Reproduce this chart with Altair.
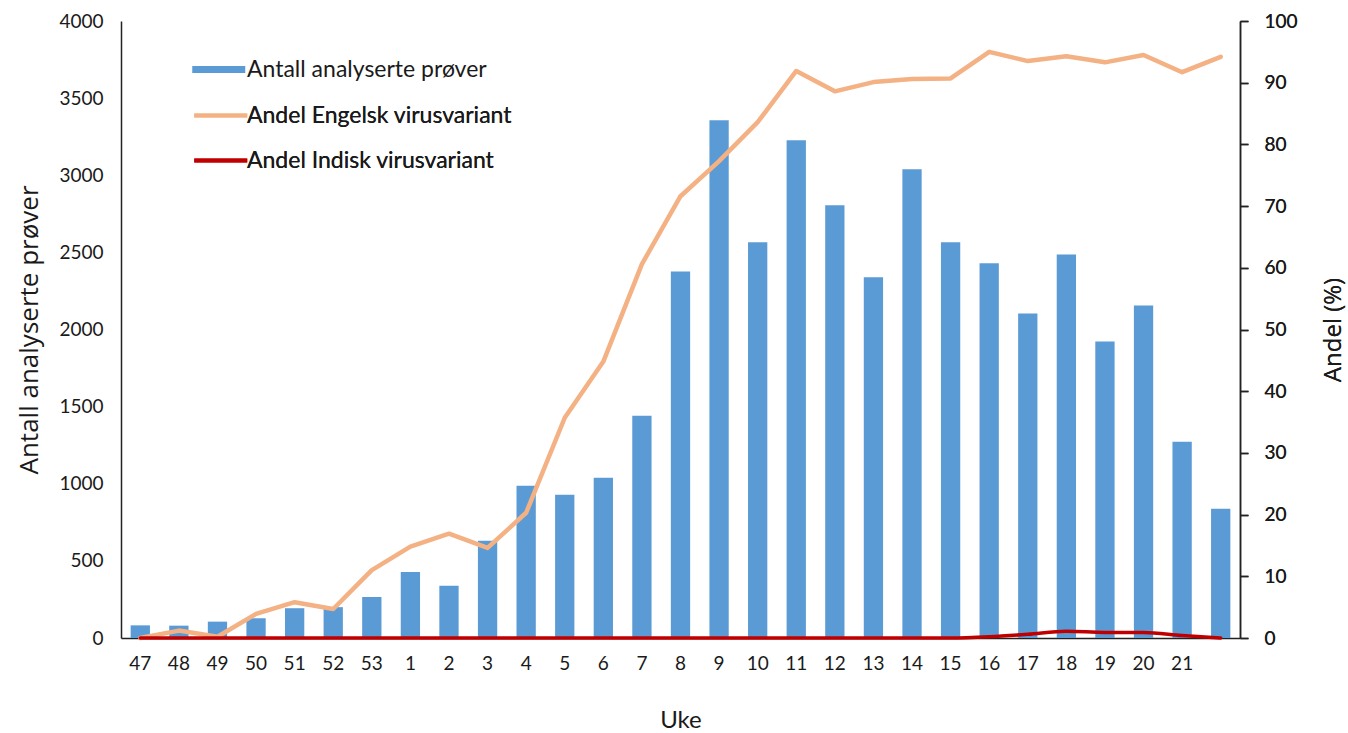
import altair as alt
import pandas as pd

# Weeks (2020 week 47 to 2021 week 22); week 22 is shown without a tick label
uke = ["47", "48", "49", "50", "51", "52", "53",
       "1", "2", "3", "4", "5", "6", "7", "8", "9", "10",
       "11", "12", "13", "14", "15", "16", "17", "18", "19", "20", "21", "22"]

# Number of analysed samples per week
antall = [82, 80, 106, 128, 193, 200, 266,
          428, 338, 630, 987, 928, 1039, 1441, 2376, 3357, 2565,
          3227, 2805, 2338, 3039, 2565, 2429, 2104, 2487, 1922, 2156, 1273, 838]

# Share (%) of the English (Alpha) variant
engelsk = [0.0, 1.2, 0.2, 3.9, 5.8, 4.7, 11.0,
           14.8, 16.9, 14.6, 20.3, 35.7, 44.8, 60.6, 71.6, 77.3, 83.6,
           91.9, 88.6, 90.1, 90.6, 90.7, 95.0, 93.5, 94.3, 93.3, 94.5, 91.7, 94.2]

# Share (%) of the Indian (Delta) variant
indisk = [0.0, 0.0, 0.0, 0.0, 0.0, 0.0, 0.0,
          0.0, 0.0, 0.0, 0.0, 0.0, 0.0, 0.0, 0.0, 0.0, 0.0,
          0.0, 0.0, 0.0, 0.0, 0.0, 0.2, 0.6, 1.1, 0.9, 0.9, 0.4, 0.0]

S_BAR = "Antall analyserte prøver"
S_ENG = "Andel Engelsk virusvariant"
S_IND = "Andel Indisk virusvariant"

bar_df = pd.DataFrame({"uke": uke, "antall": antall, "serie": S_BAR})
eng_df = pd.DataFrame({"uke": uke, "andel": engelsk, "serie": S_ENG})
ind_df = pd.DataFrame({"uke": uke, "andel": indisk, "serie": S_IND})

LABEL_FONT = "Lato"
TITLE_FONT = "Open Sans"
TXT = "#1a1a1a"
AX = "#222222"
LEG_SIZE = 23

x_enc = alt.X(
    "uke:N", sort=uke,
    scale=alt.Scale(paddingInner=0.5, paddingOuter=0.25),
    axis=alt.Axis(
        title="Uke", labelAngle=0, ticks=False, labelPadding=16,
        labelExpr="datum.value == '22' ? '' : datum.value",
        labelFont=LABEL_FONT, labelFontSize=19, labelColor=TXT,
        titleFont=LABEL_FONT, titleFontSize=24, titleFontWeight="normal",
        titleColor=TXT, titlePadding=35,
        domainColor=AX, domainWidth=1.5,
    ),
)

bars = alt.Chart(bar_df).mark_bar(color="#5B9BD5").encode(
    x=x_enc,
    y=alt.Y(
        "antall:Q",
        scale=alt.Scale(domain=[0, 4000], nice=False),
        axis=alt.Axis(
            title="Antall analyserte prøver", values=list(range(0, 4001, 500)),
            format="d", grid=False, ticks=False, labelPadding=18,
            labelFont=LABEL_FONT, labelFontSize=19, labelColor=TXT,
            titleFont=TITLE_FONT, titleFontSize=26, titleFontWeight="normal",
            titleColor=TXT, titlePadding=16,
            domainColor=AX, domainWidth=1.5,
        ),
    ),
    color=alt.Color(
        "serie:N",
        scale=alt.Scale(domain=[S_BAR], range=["#5B9BD5"]),
        legend=alt.Legend(
            title=None, orient="none", legendX=71, legendY=35, padding=0,
            symbolType="M-1,-0.26L3,-0.26L3,0.26L-1,0.26Z", symbolSize=702,
            symbolStrokeWidth=0, symbolOpacity=1, labelLimit=500,
            labelOffset=28, labelFont=LABEL_FONT, labelFontSize=LEG_SIZE,
            labelFontWeight="normal", labelColor=TXT,
        ),
    ),
)

y_right = alt.Y(
    "andel:Q",
    scale=alt.Scale(domain=[0, 100], nice=False),
    axis=alt.Axis(
        title="Andel (%)", orient="right", values=list(range(0, 101, 10)),
        grid=False, ticks=True, tickSize=8, tickColor=AX, tickWidth=1.5,
        labelPadding=16,
        labelFont=LABEL_FONT, labelFontSize=19, labelColor=TXT,
        titleFont=TITLE_FONT, titleFontSize=24, titleFontWeight="normal",
        titleColor=TXT, titlePadding=24, titleAngle=270, titleBaseline="top",
        domainColor=AX, domainWidth=1.5,
    ),
)

stroke_enc = alt.Stroke(
    "serie:N",
    scale=alt.Scale(domain=[S_ENG, S_IND], range=["#F4B183", "#C00000"]),
    legend=alt.Legend(
        title=None, orient="none", legendX=71, legendY=79, padding=0,
        symbolType="M-1,0L3,0", symbolSize=702, symbolStrokeWidth=4,
        rowPadding=17, labelOffset=24, labelLimit=500,
        labelFont=LABEL_FONT, labelFontSize=LEG_SIZE, labelFontWeight="normal",
        labelColor=TXT,
    ),
)

eng_line = alt.Chart(eng_df).mark_line(
    strokeWidth=4.5, strokeJoin="round", strokeCap="round"
).encode(x=x_enc, y=y_right, stroke=stroke_enc)

ind_line = alt.Chart(ind_df).mark_line(
    strokeWidth=3.5, interpolate="monotone", strokeCap="round"
).encode(x=x_enc, y=y_right, stroke=stroke_enc)

chart = (
    alt.layer(bars, eng_line, ind_line)
    .resolve_scale(y="independent", color="independent", stroke="independent")
    .properties(
        width=1119, height=617,
        autosize=alt.AutoSizeParams(type="none"),
        padding={"left": 121, "top": 21, "right": 108, "bottom": 95},
        background="white",
    )
    .configure_view(stroke=None)
)

chart.save("out.html", embed_options={"renderer": "svg", "actions": False})
